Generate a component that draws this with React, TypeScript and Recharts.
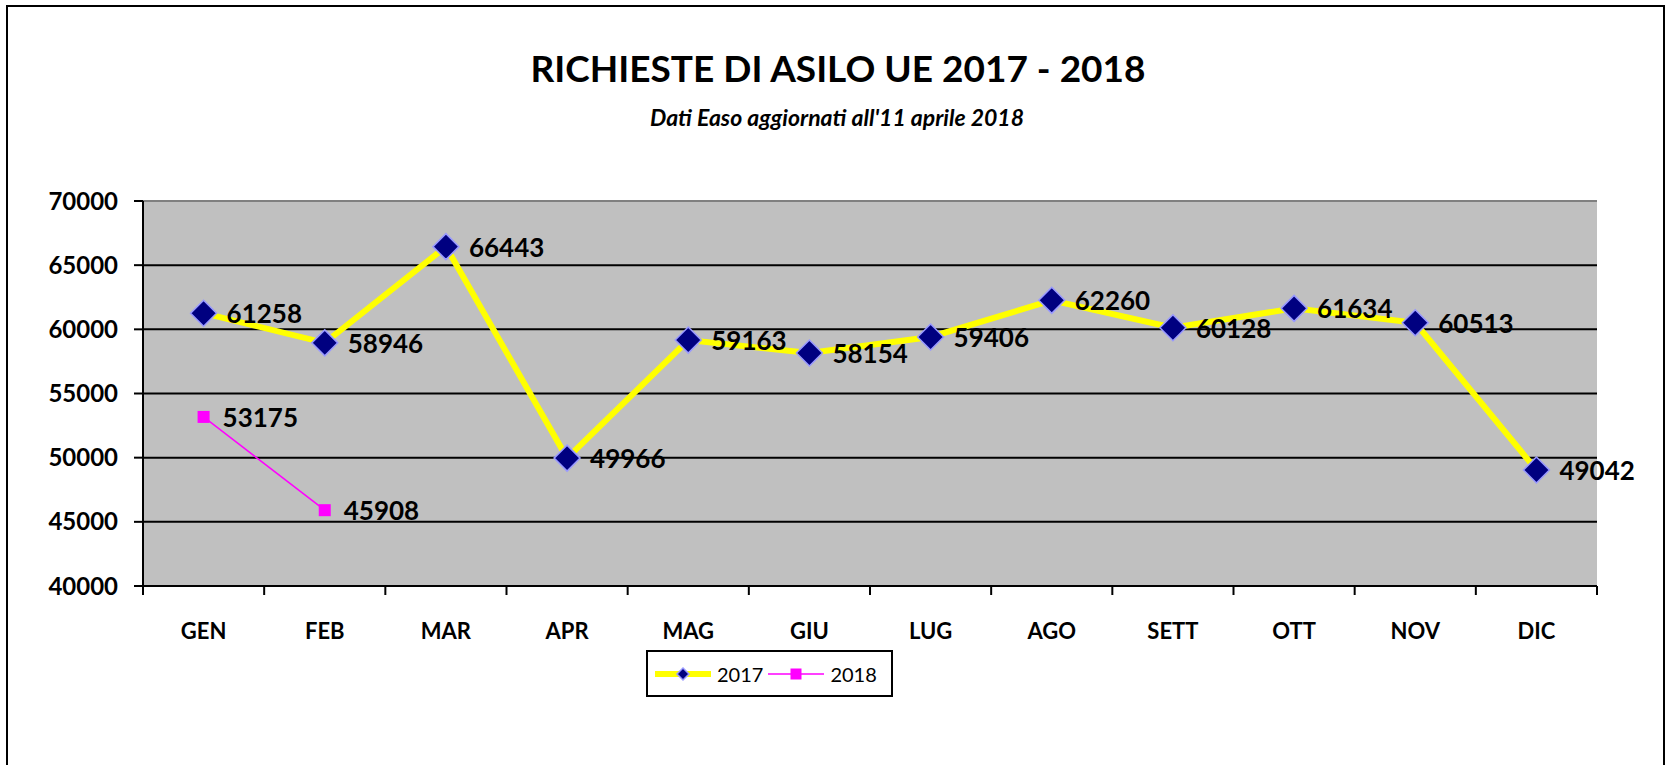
import React from "react";
import {
  LineChart,
  Line,
  XAxis,
  YAxis,
  CartesianGrid,
  Legend,
  LabelList,
  ReferenceLine,
} from "recharts";

const months = ["GEN", "FEB", "MAR", "APR", "MAG", "GIU", "LUG", "AGO", "SETT", "OTT", "NOV", "DIC"];
const values2017 = [61258, 58946, 66443, 49966, 59163, 58154, 59406, 62260, 60128, 61634, 60513, 49042];
const values2018 = [53175, 45908];
const yTicks = [40000, 45000, 50000, 55000, 60000, 65000, 70000];

const data = months.map((m, i) => ({ mese: m, y2017: values2017[i], y2018: values2018[i] }));

const FONT = "Lato, 'Liberation Sans', Arial, sans-serif";
const W = 1669;
const H = 765;
const MARGIN = { top: 201, right: 72, bottom: 129, left: 0 };
const Y_AXIS_W = 143;
const PLOT_W = W - MARGIN.left - MARGIN.right - Y_AXIS_W;

const Diamond = ({ cx, cy, r }: { cx: number; cy: number; r: number }) => (
  <path
    d={`M${cx},${cy - r} L${cx + r},${cy} L${cx},${cy + r} L${cx - r},${cy} Z`}
    fill="#000080"
    stroke="#9999FF"
    strokeWidth={1.5}
  />
);

const Square = ({ cx, cy, s }: { cx: number; cy: number; s: number }) => (
  <rect x={cx - s / 2} y={cy - s / 2} width={s} height={s} fill="#FF00FF" />
);

const MonthTick = (props: any) => {
  const { x, y, payload, index } = props;
  const half = PLOT_W / months.length / 2;
  return (
    <g>
      <line x1={x - half} y1={y} x2={x - half} y2={y + 9} stroke="#000" strokeWidth={2} />
      {index === months.length - 1 && (
        <line x1={x + half} y1={y} x2={x + half} y2={y + 9} stroke="#000" strokeWidth={2} />
      )}
      <text
        x={x}
        y={y + 44}
        textAnchor="middle"
        dominantBaseline="central"
        fontFamily={FONT}
        fontWeight="bold"
        fontSize={22}
        fill="#000"
      >
        {payload.value}
      </text>
    </g>
  );
};

const makeLabel = (offset: number) => (props: any) => {
  const { x, y, value } = props;
  if (value == null || x == null || y == null) return null;
  return (
    <text
      x={x + offset}
      y={y}
      dominantBaseline="central"
      fontFamily={FONT}
      fontWeight="bold"
      fontSize={26}
      fill="#000"
    >
      {value}
    </text>
  );
};

const LegendBox = (props: any) => {
  const { payload = [] } = props;
  return (
    <div
      style={{
        width: 247,
        height: 47,
        boxSizing: "border-box",
        border: "2px solid #000",
        background: "#fff",
        display: "flex",
        alignItems: "center",
        paddingLeft: 7,
        fontFamily: FONT,
        fontSize: 20,
      }}
    >
      {payload.map((entry: any) => (
        <span key={entry.value} style={{ display: "flex", alignItems: "center", marginRight: 5 }}>
          <svg width={56} height={20} style={{ marginRight: 6 }}>
            {entry.dataKey === "y2017" ? (
              <>
                <line x1={0} y1={10} x2={56} y2={10} stroke="#FFFF00" strokeWidth={6} />
                <Diamond cx={28} cy={10} r={6} />
              </>
            ) : (
              <>
                <line x1={0} y1={10} x2={56} y2={10} stroke="#FF00FF" strokeWidth={1.5} />
                <Square cx={28} cy={10} s={11} />
              </>
            )}
          </svg>
          <span>{entry.value}</span>
        </span>
      ))}
    </div>
  );
};

export default function App() {
  return (
    <div
      style={{
        position: "absolute",
        left: 0,
        top: 0,
        width: W,
        height: H,
        overflow: "hidden",
        background: "#fff",
      }}
    >
      <div
        style={{
          position: "absolute",
          left: 6,
          top: 5,
          width: 1655,
          height: 820,
          border: "2.5px solid #000",
        }}
      />
      <div
        style={{
          position: "absolute",
          left: 838,
          top: 44,
          transform: "translateX(-50%)",
          whiteSpace: "nowrap",
          fontFamily: FONT,
          fontWeight: "bold",
          fontSize: 37,
          lineHeight: "48px",
        }}
      >
        RICHIESTE DI ASILO UE 2017 - 2018
      </div>
      <div
        style={{
          position: "absolute",
          left: 837,
          top: 103,
          transform: "translateX(-50%)",
          whiteSpace: "nowrap",
          fontFamily: FONT,
          fontWeight: "bold",
          fontStyle: "italic",
          fontSize: 23,
          lineHeight: "28px",
        }}
      >
        Dati Easo aggiornati all'11 aprile 2018
      </div>
      <LineChart width={W} height={H} data={data} margin={MARGIN}>
        <CartesianGrid vertical={false} stroke="#000" strokeWidth={2} fill="#C0C0C0" fillOpacity={1} />
        <XAxis
          dataKey="mese"
          scale="band"
          height={50}
          axisLine={{ stroke: "#000", strokeWidth: 2 }}
          tickLine={false}
          tickSize={0}
          tickMargin={0}
          interval={0}
          tick={<MonthTick />}
        />
        <YAxis
          width={Y_AXIS_W}
          domain={[40000, 70000]}
          ticks={yTicks}
          interval={0}
          axisLine={{ stroke: "#000", strokeWidth: 2 }}
          tickLine={{ stroke: "#000", strokeWidth: 2 }}
          tickSize={9}
          tickMargin={16}
          tick={{ fontFamily: FONT, fontWeight: "bold", fontSize: 24, fill: "#000" }}
        />
        <YAxis
          yAxisId="frame"
          orientation="right"
          width={0}
          domain={[40000, 70000]}
          ticks={yTicks}
          axisLine={{ stroke: "#808080", strokeWidth: 2 }}
          tickLine={false}
          tick={false}
        />
        <ReferenceLine y={70000} stroke="#808080" strokeWidth={2} />
        <Legend
          layout="horizontal"
          verticalAlign="middle"
          align="center"
          wrapperStyle={{ left: 646, top: 650, width: 247, height: 47 }}
          content={<LegendBox />}
        />
        <Line
          name="2017"
          dataKey="y2017"
          type="linear"
          stroke="#FFFF00"
          strokeWidth={6}
          isAnimationActive={false}
          dot={(p: any) => (p.cx == null ? <g key={p.index} /> : <Diamond key={p.index} cx={p.cx} cy={p.cy} r={13} />)}
          activeDot={false}
        >
          <LabelList dataKey="y2017" content={makeLabel(23)} />
        </Line>
        <Line
          name="2018"
          dataKey="y2018"
          type="linear"
          stroke="#FF00FF"
          strokeWidth={1.5}
          isAnimationActive={false}
          dot={(p: any) => (p.cx == null || p.value == null ? <g key={p.index} /> : <Square key={p.index} cx={p.cx} cy={p.cy} s={12} />)}
          activeDot={false}
        >
          <LabelList dataKey="y2018" content={makeLabel(19)} />
        </Line>
      </LineChart>
    </div>
  );
}
